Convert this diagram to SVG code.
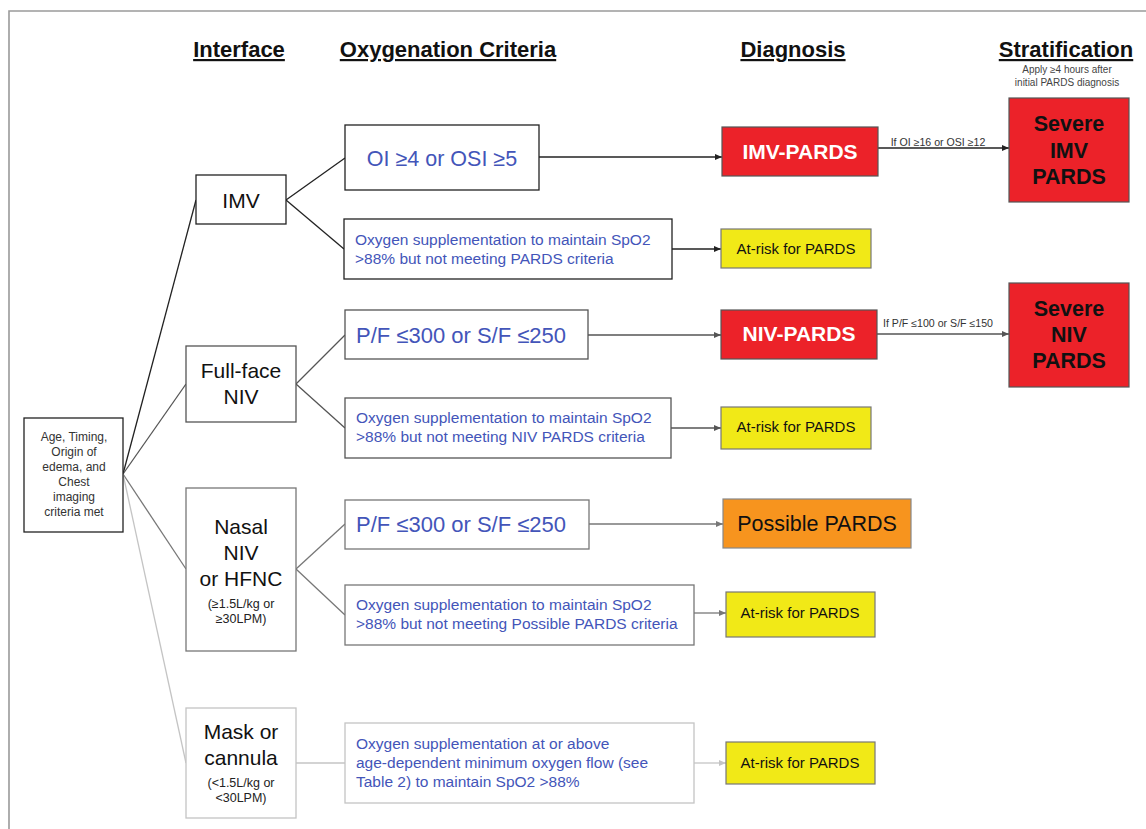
<svg xmlns="http://www.w3.org/2000/svg" width="1146" height="829" viewBox="0 0 1146 829">
<style>
text{font-family:"Liberation Sans",Arial,sans-serif}
.hdr{font-size:22px;font-weight:bold;text-anchor:middle;text-decoration:underline;fill:#111}
.sub{font-size:10px;text-anchor:middle;fill:#444}
.box{fill:#fff}
.k1{stroke:#222;stroke-width:1.3}
.k2{stroke:#555;stroke-width:1.3}
.k3{stroke:#777;stroke-width:1.3}
.k4{stroke:#c4c4c4;stroke-width:1.3}
.iface{font-size:21px;text-anchor:middle;fill:#111}
.small{font-size:12.5px;text-anchor:middle;fill:#222}
.blue{fill:#4355b9}
.big{font-size:22px}
.med{font-size:15.5px}
.red{fill:#ec2229;stroke:#555;stroke-width:1.2}
.yel{fill:#f1e917;stroke:#777;stroke-width:1.2}
.org{fill:#f7941e;stroke:#888;stroke-width:1.2}
.dx{font-size:21px;font-weight:bold;text-anchor:middle;fill:#fff}
.sev{font-size:21.5px;font-weight:bold;text-anchor:middle;fill:#111}
.ar{font-size:15px;text-anchor:middle;fill:#111}
.lbl{font-size:10.6px;text-anchor:middle;fill:#333}
.c{fill:none}
</style>
<defs>
<marker id="a1" markerWidth="8" markerHeight="8" refX="7" refY="4" orient="auto" markerUnits="userSpaceOnUse"><path d="M0,1 L7,4 L0,7 z" fill="#222"/></marker>
<marker id="a2" markerWidth="8" markerHeight="8" refX="7" refY="4" orient="auto" markerUnits="userSpaceOnUse"><path d="M0,1 L7,4 L0,7 z" fill="#555"/></marker>
<marker id="a3" markerWidth="8" markerHeight="8" refX="7" refY="4" orient="auto" markerUnits="userSpaceOnUse"><path d="M0,1 L7,4 L0,7 z" fill="#777"/></marker>
<marker id="a4" markerWidth="8" markerHeight="8" refX="7" refY="4" orient="auto" markerUnits="userSpaceOnUse"><path d="M0,1 L7,4 L0,7 z" fill="#c4c4c4"/></marker>
</defs>
<rect x="0" y="0" width="1146" height="829" fill="#fff"/>
<path d="M9,829 V11 H1146" fill="none" stroke="#9a9a9a" stroke-width="1.6"/>

<g id="headers">
<text class="hdr" x="239" y="57">Interface</text>
<text class="hdr" x="448" y="57">Oxygenation Criteria</text>
<text class="hdr" x="793" y="57">Diagnosis</text>
<text class="hdr" x="1066" y="57">Stratification</text>
<text class="sub" x="1067" y="73">Apply ≥4 hours after</text>
<text class="sub" x="1067" y="86">initial PARDS diagnosis</text>
</g>

<g id="connectors" class="c">
<line class="k1" x1="123" y1="474" x2="196" y2="200"/>
<line class="k2" x1="123" y1="474" x2="186" y2="384"/>
<line class="k3" x1="123" y1="474" x2="186" y2="569"/>
<line class="k4" x1="123" y1="474" x2="186" y2="763"/>
<line class="k1" x1="286" y1="200" x2="345" y2="158"/>
<line class="k1" x1="286" y1="200" x2="344" y2="249"/>
<line class="k2" x1="296" y1="384" x2="345" y2="335"/>
<line class="k2" x1="296" y1="384" x2="345" y2="428"/>
<line class="k3" x1="296" y1="569" x2="345" y2="524"/>
<line class="k3" x1="296" y1="569" x2="345" y2="615"/>
<line class="k4" x1="296" y1="763" x2="345" y2="763"/>
<line class="k1" x1="539" y1="157" x2="722" y2="157" marker-end="url(#a1)"/>
<line class="k1" x1="672" y1="249" x2="721" y2="249" marker-end="url(#a1)"/>
<line class="k1" x1="878" y1="148" x2="1009" y2="148" marker-end="url(#a1)"/>
<line class="k2" x1="588" y1="335" x2="721" y2="335" marker-end="url(#a2)"/>
<line class="k2" x1="671" y1="428" x2="721" y2="428" marker-end="url(#a2)"/>
<line class="k2" x1="877" y1="334" x2="1009" y2="334" marker-end="url(#a2)"/>
<line class="k3" x1="589" y1="524" x2="723" y2="524" marker-end="url(#a3)"/>
<line class="k3" x1="694" y1="613" x2="726" y2="613" marker-end="url(#a3)"/>
<line class="k4" x1="694" y1="763" x2="726" y2="763" marker-end="url(#a4)"/>
<text class="lbl" x="938" y="146">If OI ≥16 or OSI ≥12</text>
<text class="lbl" x="938" y="327">If P/F ≤100 or S/F ≤150</text>
</g>

<g id="root">
<rect class="box k1" x="24" y="418" width="99" height="114" stroke="#333"/>
<text x="74" y="441" font-size="12" text-anchor="middle" fill="#333">Age, Timing,</text>
<text x="74" y="456" font-size="12" text-anchor="middle" fill="#333">Origin of</text>
<text x="74" y="471" font-size="12" text-anchor="middle" fill="#333">edema, and</text>
<text x="74" y="486" font-size="12" text-anchor="middle" fill="#333">Chest</text>
<text x="74" y="501" font-size="12" text-anchor="middle" fill="#333">imaging</text>
<text x="74" y="516" font-size="12" text-anchor="middle" fill="#333">criteria met</text>
</g>

<g id="imv">
<rect class="box k1" x="196" y="175" width="90" height="49"/>
<text class="iface" x="241" y="207.5">IMV</text>
</g>
<g id="fullface-niv">
<rect class="box k2" x="186" y="346" width="110" height="76"/>
<text class="iface" x="241" y="377.5">Full-face</text>
<text class="iface" x="241" y="403.5">NIV</text>
</g>
<g id="nasal-niv">
<rect class="box k3" x="186" y="488" width="110" height="163"/>
<text class="iface" x="241" y="533.5">Nasal</text>
<text class="iface" x="241" y="559.5">NIV</text>
<text class="iface" x="241" y="585.5">or HFNC</text>
<text class="small" x="241" y="607.5">(≥1.5L/kg or</text>
<text class="small" x="241" y="622.5">≥30LPM)</text>
</g>
<g id="mask-cannula">
<rect class="box k4" x="186" y="708" width="110" height="110"/>
<text class="iface" x="241" y="738.5">Mask or</text>
<text class="iface" x="241" y="765">cannula</text>
<text class="small" x="241" y="786.5">(&lt;1.5L/kg or</text>
<text class="small" x="241" y="801.5">&lt;30LPM)</text>
</g>

<g id="oi-criteria">
<rect class="box k1" x="345" y="125" width="194" height="65"/>
<text class="blue" x="442" y="165.5" font-size="21.5" text-anchor="middle">OI ≥4 or OSI ≥5</text>
</g>
<g id="imv-oxygen">
<rect class="box k1" x="344" y="219" width="328" height="60"/>
<text class="blue med" x="355" y="245">Oxygen supplementation to maintain SpO2</text>
<text class="blue med" x="355" y="264">&gt;88% but not meeting PARDS criteria</text>
</g>
<g id="niv-pf">
<rect class="box k2" x="345" y="310" width="243" height="49"/>
<text class="blue big" x="356" y="343">P/F ≤300 or S/F ≤250</text>
</g>
<g id="niv-oxygen">
<rect class="box k2" x="345" y="398" width="326" height="60"/>
<text class="blue med" x="356" y="423">Oxygen supplementation to maintain SpO2</text>
<text class="blue med" x="356" y="442">&gt;88% but not meeting NIV PARDS criteria</text>
</g>
<g id="nasal-pf">
<rect class="box k3" x="345" y="500" width="244" height="49"/>
<text class="blue big" x="356" y="532">P/F ≤300 or S/F ≤250</text>
</g>
<g id="nasal-oxygen">
<rect class="box k3" x="345" y="585" width="349" height="60"/>
<text class="blue med" x="356" y="610">Oxygen supplementation to maintain SpO2</text>
<text class="blue med" x="356" y="629">&gt;88% but not meeting Possible PARDS criteria</text>
</g>
<g id="mask-oxygen">
<rect class="box k4" x="345" y="723" width="349" height="80"/>
<text class="blue med" x="356" y="749">Oxygen supplementation at or above</text>
<text class="blue med" x="356" y="768">age-dependent minimum oxygen flow (see</text>
<text class="blue med" x="356" y="787">Table 2) to maintain SpO2 &gt;88%</text>
</g>

<g id="imv-pards">
<rect class="red" x="722" y="127" width="156" height="49"/>
<text class="dx" x="800" y="159">IMV-PARDS</text>
</g>
<g id="severe-imv">
<rect class="red" x="1009" y="98" width="120" height="104" stroke="#333"/>
<text class="sev" x="1069" y="131">Severe</text>
<text class="sev" x="1069" y="158">IMV</text>
<text class="sev" x="1069" y="184">PARDS</text>
</g>
<g id="imv-atrisk">
<rect class="yel" x="721" y="229" width="150" height="39" stroke="#333"/>
<text class="ar" x="796" y="254">At-risk for PARDS</text>
</g>
<g id="niv-pards">
<rect class="red" x="721" y="310" width="156" height="49"/>
<text class="dx" x="799" y="341">NIV-PARDS</text>
</g>
<g id="severe-niv">
<rect class="red" x="1009" y="283" width="120" height="104" stroke="#333"/>
<text class="sev" x="1069" y="316">Severe</text>
<text class="sev" x="1069" y="342">NIV</text>
<text class="sev" x="1069" y="368">PARDS</text>
</g>
<g id="niv-atrisk">
<rect class="yel" x="721" y="407" width="150" height="42"/>
<text class="ar" x="796" y="432">At-risk for PARDS</text>
</g>
<g id="possible-pards">
<rect class="org" x="723" y="499" width="188" height="49"/>
<text x="817" y="531" font-size="21.5" text-anchor="middle" fill="#111">Possible PARDS</text>
</g>
<g id="nasal-atrisk">
<rect class="yel" x="726" y="592" width="149" height="45"/>
<text class="ar" x="800" y="618">At-risk for PARDS</text>
</g>
<g id="mask-atrisk">
<rect class="yel" x="726" y="742" width="149" height="42" stroke="#ccc"/>
<text class="ar" x="800" y="768">At-risk for PARDS</text>
</g>
</svg>
